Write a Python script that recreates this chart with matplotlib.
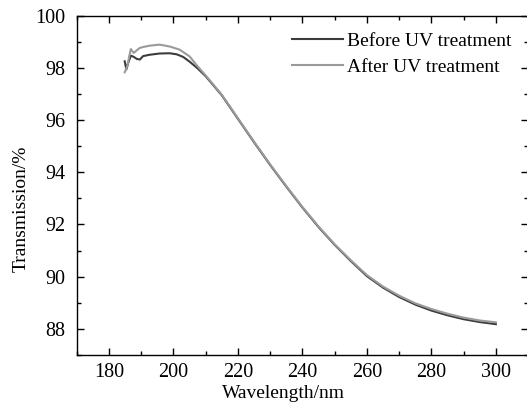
import matplotlib
matplotlib.use("Agg")
import matplotlib.pyplot as plt
from matplotlib.ticker import MultipleLocator

plt.rcParams["font.family"] = ["Liberation Serif", "DejaVu Serif"]

# Transmission spectra (wavelength in nm, transmission in %)
wl_before = [184.9, 185.4, 186.0, 186.8, 187.7, 188.7, 189.6, 190.6, 192.5, 195.7,
             198.8, 201.0, 203.0, 205.0, 207.5, 210, 215, 220, 225, 230, 235,
             240, 245, 250, 255, 260, 265, 270, 275, 280, 285, 290, 295, 300]
tr_before = [98.25, 97.94, 98.20, 98.47, 98.42, 98.34, 98.32, 98.45, 98.50, 98.55,
             98.56, 98.52, 98.42, 98.24, 97.98, 97.68, 96.95, 96.05, 95.15, 94.28, 93.45,
             92.65, 91.90, 91.22, 90.60, 90.02, 89.58, 89.22, 88.93, 88.70, 88.52, 88.37, 88.26, 88.18]

wl_after = [184.9, 185.8, 186.3, 186.8, 187.7, 188.5, 189.5, 190.6, 192.6, 195.7,
            198.8, 201.9, 205.0, 207.5, 210, 215, 220, 225, 230, 235,
            240, 245, 250, 255, 260, 265, 270, 275, 280, 285, 290, 295, 300]
tr_after = [97.83, 98.10, 98.45, 98.72, 98.57, 98.66, 98.76, 98.80, 98.85, 98.89,
            98.82, 98.70, 98.44, 98.06, 97.71, 96.97, 96.07, 95.17, 94.30, 93.47,
            92.67, 91.92, 91.24, 90.63, 90.06, 89.62, 89.27, 88.98, 88.76, 88.58, 88.43, 88.32, 88.25]

labels = ["Before UV treatment", "After UV treatment"]
colors = ["#3c3c3c", "#9a9a9a"]

fig = plt.figure(figsize=(5.27, 4.08), dpi=100)
ax = fig.add_axes([0.1455, 0.130, 0.8567, 0.8316])

ax.plot(wl_before, tr_before, color=colors[0], lw=1.5, label=labels[0])
ax.plot(wl_after, tr_after, color=colors[1], lw=1.5, label=labels[1])

ax.set_xlim(170, 310)
ax.set_ylim(87, 100)
ax.xaxis.set_major_locator(MultipleLocator(20))
ax.xaxis.set_minor_locator(MultipleLocator(10))
ax.yaxis.set_major_locator(MultipleLocator(2))
ax.yaxis.set_minor_locator(MultipleLocator(1))
ax.tick_params(which="both", direction="in", top=True, right=True,
               labelsize=14.5, width=1.0, colors="black")
ax.tick_params(which="major", length=5)
ax.tick_params(which="minor", length=3)
ax.tick_params(axis="x", which="major", pad=6)
ax.tick_params(axis="y", which="major", pad=8)
for s in ax.spines.values():
    s.set_linewidth(1.0)

ax.set_xlabel("Wavelength/nm", fontsize=14)
ax.set_ylabel("Transmission/%", fontsize=14)
ax.xaxis.set_label_coords(0.457, -0.088)
ax.yaxis.set_label_coords(-0.103, 0.43)

ax.legend(loc="upper left", frameon=False, fontsize=14, handlelength=2.6,
          handletextpad=0.25, labelspacing=0.4, borderpad=0, borderaxespad=0,
          bbox_to_anchor=(0.477, 0.950))

fig.savefig("out.png", dpi=100)
